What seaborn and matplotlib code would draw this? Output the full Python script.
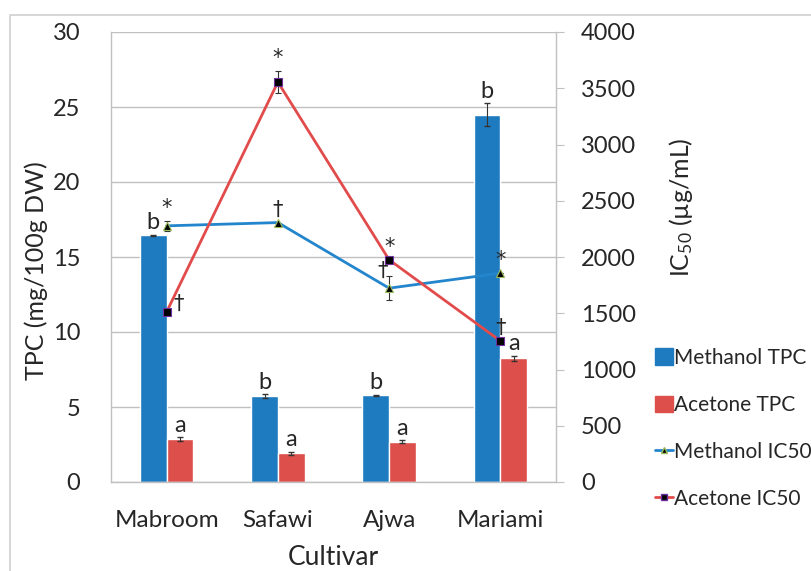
import matplotlib
matplotlib.use('Agg')
import matplotlib.pyplot as plt
from matplotlib.lines import Line2D
from matplotlib.patches import Patch, Rectangle
import seaborn as sns
import pandas as pd
import numpy as np

cultivars = ['Mabroom', 'Safawi', 'Ajwa', 'Mariami']
methanol_tpc = [16.45, 5.73, 5.78, 24.5]
methanol_tpc_sd = [0.05, 0.12, 0.05, 0.77]
acetone_tpc = [2.85, 1.92, 2.67, 8.25]
acetone_tpc_sd = [0.12, 0.1, 0.1, 0.18]
methanol_ic50 = [2277, 2306, 1723, 1856]
methanol_ic50_sd = [42, 0, 104, 0]
acetone_ic50 = [1512, 3555, 1975, 1254]
acetone_ic50_sd = [20, 100, 0, 0]
methanol_tpc_letters = ['b', 'b', 'b', 'b']
acetone_tpc_letters = ['a', 'a', 'a', 'a']
methanol_ic50_sig = ['*', '\u2020', '\u2020', '*']
acetone_ic50_sig = ['\u2020', '*', '*', '\u2020']

blue = '#1f7bbf'
red = '#dc4f4a'
line_blue = '#2385cc'
line_red = '#e24b4b'
grey = '#c0c0c0'

sns.set_style('white')
plt.rcParams['font.family'] = ['Lato', 'DejaVu Sans']
plt.rcParams['mathtext.default'] = 'regular'
fs = 17
sym_font = ['DejaVu Sans']

df = pd.DataFrame({
    'Cultivar': cultivars * 2,
    'TPC': methanol_tpc + acetone_tpc,
    'Solvent': ['Methanol TPC'] * 4 + ['Acetone TPC'] * 4,
})

fig = plt.figure(figsize=(8.12, 5.71), dpi=100)
ax = fig.add_axes([111 / 812, 1 - 482 / 571, 445 / 812, 450 / 571])

sns.barplot(data=df, x='Cultivar', y='TPC', hue='Solvent', palette=[blue, red],
            width=0.48, gap=0, errorbar=None, saturation=1, legend=False,
            zorder=2, ax=ax)

# error bars + letters on bars, using the bar patches seaborn drew
sds = methanol_tpc_sd + acetone_tpc_sd
letters = methanol_tpc_letters + acetone_tpc_letters
for bar, sd, let in zip(list(ax.patches), sds, letters):
    xc = bar.get_x() + bar.get_width() / 2
    h = bar.get_height()
    ax.errorbar(xc, h, yerr=sd, color='#333333', lw=0.8, capsize=2, zorder=3)
    ax.annotate(let, (xc, h + sd), xytext=(0, 1), textcoords='offset points',
                ha='center', va='bottom', fontsize=fs)

ax.set_xlim(-0.5, len(cultivars) - 0.5)
ax.set_ylim(0, 30)
ax.set_yticks(range(0, 31, 5))
ax.grid(axis='y', color=grey, lw=1, zorder=0)
ax.set_axisbelow(True)
ax.tick_params(axis='y', length=0, labelsize=fs, pad=22)
ax.tick_params(axis='x', length=0, labelsize=17.5, pad=20)
for s in ['top', 'right']:
    ax.spines[s].set_visible(False)
for s in ['left', 'bottom']:
    ax.spines[s].set_color(grey)
    ax.spines[s].set_linewidth(1)
ax.set_xlabel('Cultivar', fontsize=19, labelpad=10)
ax.set_ylabel('TPC (mg/100g DW)', fontsize=18)
ax.yaxis.set_label_coords(-0.142, 0.47)

ax2 = ax.twinx()
xs = np.arange(len(cultivars))
ax2.errorbar(xs, methanol_ic50, yerr=methanol_ic50_sd, color=line_blue, lw=2,
             marker='^', ms=6, mfc='black', mec='#9bbb59', mew=0.8,
             ecolor='#333333', elinewidth=0.8, capsize=2)
ax2.errorbar(xs, acetone_ic50, yerr=acetone_ic50_sd, color=line_red, lw=2,
             marker='s', ms=6, mfc='black', mec='#7030a0', mew=0.8,
             ecolor='#333333', elinewidth=0.8, capsize=2)

for i in range(len(cultivars)):
    if i == 2:
        y, off = methanol_ic50[i], (-5, 5)
    else:
        y, off = methanol_ic50[i] + methanol_ic50_sd[i], (0, 2)
    ax2.annotate(methanol_ic50_sig[i], (xs[i], y), xytext=off,
                 textcoords='offset points', ha='center', va='bottom',
                 fontsize=15, family=sym_font)
    off = (9, -3) if i == 0 else (0, 2)
    ax2.annotate(acetone_ic50_sig[i], (xs[i], acetone_ic50[i] + acetone_ic50_sd[i]),
                 xytext=off, textcoords='offset points', ha='center', va='bottom',
                 fontsize=15, family=sym_font)

ax2.set_xlim(-0.5, len(cultivars) - 0.5)
ax2.set_ylim(0, 4000)
ax2.set_yticks(range(0, 4001, 500))
ax2.tick_params(axis='y', length=6, color=grey, labelsize=fs, pad=12)
for s in ['top', 'left', 'bottom']:
    ax2.spines[s].set_visible(False)
ax2.spines['right'].set_color(grey)
ax2.spines['right'].set_linewidth(1)
ax2.set_ylabel('IC$_{50}$ (\u00b5g/mL)', fontsize=18, rotation=90)
ax2.yaxis.set_label_coords(1.25, 0.61)

handles = [
    Patch(color=blue, label='Methanol TPC'),
    Patch(color=red, label='Acetone TPC'),
    Line2D([], [], color=line_blue, lw=2, marker='^', ms=5, mfc='black',
           mec='#9bbb59', label='Methanol IC50'),
    Line2D([], [], color=line_red, lw=2, marker='s', ms=5, mfc='black',
           mec='#7030a0', label='Acetone IC50'),
]
fig.legend(handles=handles, loc='upper left', bbox_to_anchor=(655 / 812, 1 - 348 / 571),
           frameon=False, fontsize=15, handlelength=0.85, handleheight=0.85,
           handletextpad=0.05, labelspacing=1.3, borderpad=0, borderaxespad=0)

fig.patches.append(Rectangle((10 / 812, -0.05), 1.2, 1 - 15 / 571 + 0.05,
                             transform=fig.transFigure, fill=False,
                             edgecolor='#d0d0d0', lw=1.2))

fig.savefig('out.png', dpi=100)
